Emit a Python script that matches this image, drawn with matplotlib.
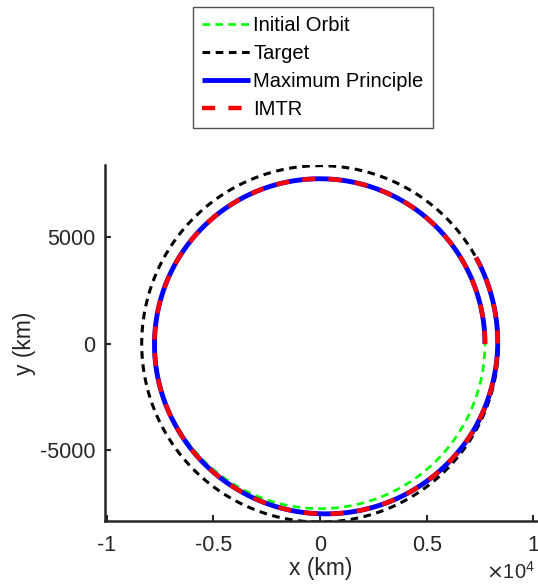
import numpy as np
import matplotlib
matplotlib.use("Agg")
import matplotlib.pyplot as plt

plt.rcParams['font.family'] = ['Liberation Sans', 'DejaVu Sans']
plt.rcParams['lines.scale_dashes'] = False

# ---- data (km) ----
initial_radius = 7730.0
target_radius = 8360.0
# trajectory: polar angle (deg) vs radius (km)
traj_angle_deg = [0, 30, 60, 90, 120, 150, 180, 210, 240, 270, 300, 330, 360, 389]
traj_radius = [7730, 7735, 7740, 7745, 7750, 7755, 7760, 7780, 7850, 7970, 8120, 8260, 8330, 8360]
imtr_angle_deg = traj_angle_deg
imtr_radius = traj_radius

xticks = [-10000, -5000, 0, 5000, 10000]
xticklabels = ['-1', '-0.5', '0', '0.5', '1']
yticks = [-5000, 0, 5000]
yticklabels = ['-5000', '0', '5000']

W, H = 538, 585
fig = plt.figure(figsize=(W / 100, H / 100), dpi=100)
ax = fig.add_axes([105 / W, 1 - 521 / H, (537 - 105) / W, (521 - 165) / H])

th = np.linspace(0, 2 * np.pi, 721)
ax.plot(initial_radius * np.cos(th), initial_radius * np.sin(th), color='#00ff00',
        lw=1.9, dashes=(5.5, 3.8), label='Initial Orbit', zorder=2)
ax.plot(target_radius * np.cos(th), target_radius * np.sin(th), color='black',
        lw=2.2, dashes=(5.5, 4.0), label='Target', zorder=2)

tt = np.linspace(0, traj_angle_deg[-1], 800)
rr = np.interp(tt, traj_angle_deg, traj_radius)
ax.plot(rr * np.cos(np.radians(tt)), rr * np.sin(np.radians(tt)), color='#0000ff',
        lw=3.5, solid_capstyle='butt', label='Maximum Principle', zorder=3)
ti = np.linspace(0, imtr_angle_deg[-1], 800)
ri = np.interp(ti, imtr_angle_deg, imtr_radius)
ax.plot(ri * np.cos(np.radians(ti)), ri * np.sin(np.radians(ti)), color='#ff0000',
        lw=3.2, dashes=(9.5, 9.5), label='IMTR', zorder=4)

ax.set_xlim(-10080, 10170)
ax.set_ylim(-8310, 8390)
for s in ['top', 'right']:
    ax.spines[s].set_visible(False)
for s in ['left', 'bottom']:
    ax.spines[s].set_color('#262626')
    ax.spines[s].set_linewidth(1.8)
ax.set_xticks(xticks)
ax.set_xticklabels(xticklabels)
ax.set_yticks(yticks)
ax.set_yticklabels(yticklabels)
ax.tick_params(direction='in', length=4, width=1.5, colors='#262626',
               labelsize=15.5, pad=7)
ax.tick_params(axis='x', pad=10)
ax.set_xlabel('x (km)', fontsize=16.5, color='#262626', labelpad=1)
ax.set_ylabel('y (km)', fontsize=16.5, color='#262626', labelpad=3)
fig.text(535 / W, 1 - 572 / H, r'$\times\mathregular{10^4}$', ha='right', va='center',
         fontsize=14.5, color='#262626')

leg = fig.legend(loc='upper left', bbox_to_anchor=(193 / W, 1 - 7 / H),
                 fontsize=14.5, frameon=True, fancybox=False, borderaxespad=0,
                 handlelength=2.4, handletextpad=0.15, labelspacing=0.45,
                 borderpad=0.45)
leg.get_frame().set_edgecolor('#262626')
leg.get_frame().set_linewidth(1.0)
for t in leg.get_texts():
    t.set_color('black')

fig.savefig('out.png', dpi=100)
